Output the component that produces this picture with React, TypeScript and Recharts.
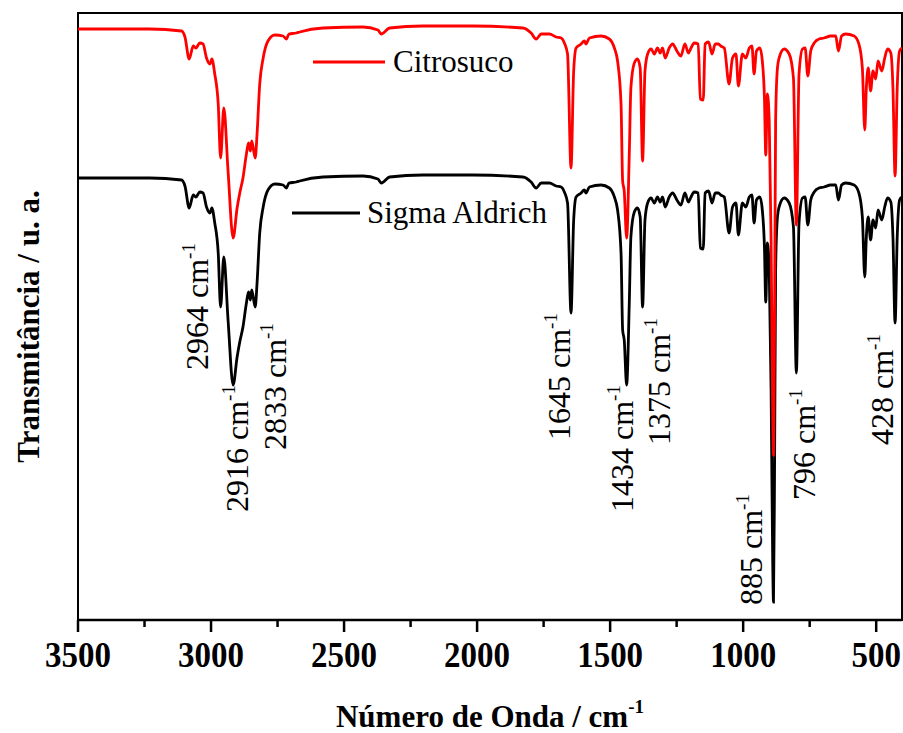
import React from 'react';
import { LineChart, Line, XAxis, YAxis, ReferenceArea, ReferenceDot, Legend } from 'recharts';

// Wavenumber (cm-1) sample points
const wavenumbers = [
  3500, 3230, 3111, 3098, 3082, 3067, 3057, 3042, 3030, 3017, 3004, 2997, 2986, 2973, 2964, 2952, 2936, 2917, 2902, 2892,
  2880, 2867, 2859, 2852, 2847, 2834, 2827, 2817, 2804, 2786, 2760, 2729, 2717, 2707, 2679, 2667, 2579, 2429, 2373, 2360,
  2329, 2204, 2016, 1828, 1797, 1778, 1759, 1728, 1703, 1684, 1672, 1660, 1647, 1637, 1628, 1609, 1597, 1591, 1578, 1534,
  1503, 1484, 1472, 1459, 1453, 1447, 1438, 1428, 1422, 1409, 1397, 1387, 1378, 1369, 1359, 1346, 1334, 1322, 1312, 1303,
  1293, 1278, 1265, 1249, 1234, 1219, 1206, 1196, 1184, 1169, 1161, 1150, 1143, 1130, 1117, 1105, 1093, 1084, 1071, 1053,
  1040, 1027, 1018, 1003, 990, 977, 967, 959, 950, 937, 928, 920, 915, 909, 902, 895, 889, 886, 882, 878,
  872, 865, 846, 827, 811, 800, 790, 777, 767, 757, 746, 733, 715, 696, 671, 652, 642, 630, 615, 583,
  565, 552, 543, 537, 530, 521, 512, 502, 493, 479, 468, 457, 445, 437, 429, 421, 412, 403,
];

// Transmittance (arbitrary units, offset spectra)
const sigmaAldrich = [
  442, 442, 440, 434, 412, 425, 423, 428, 427, 413, 407, 412, 397, 367, 313, 363, 300, 235, 263, 278,
  293, 317, 328, 320, 330, 313, 337, 387, 413, 430, 436, 435, 432, 437, 438, 439, 443, 444, 441, 437,
  443, 445, 445, 443, 438, 432, 437, 437, 434, 433, 428, 417, 307, 400, 423, 427, 430, 427, 433, 435,
  432, 423, 410, 367, 290, 280, 235, 317, 383, 408, 412, 403, 313, 400, 417, 422, 417, 423, 418, 423,
  413, 423, 427, 420, 415, 427, 418, 423, 428, 427, 372, 371, 427, 429, 417, 427, 427, 425, 423, 387,
  413, 417, 385, 417, 413, 423, 425, 397, 420, 423, 410, 373, 318, 377, 350, 230, 60, 18, 150, 350,
  400, 413, 422, 417, 393, 247, 397, 422, 423, 395, 420, 428, 432, 433, 435, 435, 420, 435, 437, 435,
  427, 403, 343, 383, 403, 380, 400, 392, 410, 400, 413, 422, 418, 383, 297, 383, 420, 423,
];

const citrosuco = [
  591, 591, 589, 583, 561, 574, 572, 577, 576, 562, 556, 561, 546, 516, 462, 512, 449, 382, 412, 427,
  442, 466, 477, 469, 479, 462, 486, 536, 562, 579, 585, 584, 581, 586, 587, 588, 592, 593, 590, 586,
  592, 594, 594, 592, 587, 581, 586, 586, 583, 582, 577, 566, 452, 549, 572, 576, 579, 576, 582, 584,
  581, 572, 559, 516, 439, 429, 382, 466, 532, 557, 561, 552, 459, 549, 566, 571, 566, 572, 567, 572,
  562, 572, 576, 569, 564, 576, 567, 572, 577, 576, 521, 520, 576, 578, 566, 576, 576, 574, 572, 536,
  562, 566, 534, 566, 562, 572, 574, 546, 569, 572, 559, 522, 465, 526, 499, 379, 209, 165, 299, 499,
  549, 562, 571, 566, 542, 395, 546, 571, 572, 544, 569, 577, 581, 582, 584, 584, 569, 584, 586, 584,
  576, 552, 490, 532, 552, 529, 549, 541, 559, 549, 562, 571, 567, 532, 444, 532, 569, 572,
];

const xTicks = [3500, 3250, 3000, 2750, 2500, 2250, 2000, 1750, 1500, 1250, 1000, 750, 500];

const peakLabels = ['2964', '2916', '2833', '1645', '1434', '1375', '885', '796', '428'];
const peakLabelWn = [3053, 2903, 2760, 1691, 1454, 1315, 970, 771, 478];
const peakLabelLevel = [250, 108, 170, 180, 108, 175, 15, 120, 175];

const data = wavenumbers.map((w, i) => ({ wn: w, sigma: sigmaAldrich[i], citro: citrosuco[i] }));

const FONT = '"Liberation Serif", "Times New Roman", serif';

const AxisTick = (props: any) => {
  const { x, y, payload } = props;
  const major = payload.value % 500 === 0;
  return (
    <g>
      <line x1={x} x2={x} y1={y} y2={y + (major ? 12 : 7)} stroke="#000" strokeWidth={2.5} />
      {major && (
        <text
          x={x}
          y={y + 47}
          textAnchor="middle"
          fontFamily={FONT}
          fontWeight="bold"
          fontSize={33}
          fill="#000"
          transform={`translate(0 ${-(y + 47) * 0.1}) scale(1 1.1)`}
        >
          {payload.value}
        </text>
      )}
    </g>
  );
};

const legendPos: Record<string, { x1: number; x2: number; y: number; tx: number; ty: number }> = {
  Citrosuco: { x1: 313, x2: 385, y: 62, tx: 393, ty: 72 },
  'Sigma Aldrich': { x1: 292, x2: 360, y: 213, tx: 367, ty: 223 },
};

const LegendContent = (props: any) => {
  const payload = props.payload || [];
  return (
    <svg width={903} height={733} style={{ position: 'absolute', left: 0, top: 0, pointerEvents: 'none' }}>
      {payload.map((p: any) => {
        const pos = legendPos[p.value];
        if (!pos) return null;
        return (
          <g key={p.value}>
            <line x1={pos.x1} x2={pos.x2} y1={pos.y} y2={pos.y} stroke={p.color} strokeWidth={3} />
            <text x={pos.tx} y={pos.ty} fontFamily={FONT} fontSize={31} fill="#000">
              {p.value}
            </text>
          </g>
        );
      })}
    </svg>
  );
};

export default function App() {
  return (
    <div style={{ position: 'absolute', left: 0, top: 0, width: 903, height: 733, background: '#fff' }}>
      <LineChart width={903} height={733} data={data} margin={{ top: 13, right: 1, left: 0, bottom: 0 }}>
        <XAxis
          dataKey="wn"
          type="number"
          domain={[403, 3500]}
          reversed
          allowDataOverflow
          ticks={xTicks}
          interval={0}
          tickSize={0}
          tickMargin={0}
          tickLine={false}
          tick={<AxisTick />}
          height={113}
          axisLine={{ stroke: '#000', strokeWidth: 2.5 }}
          label={{
            content: (p: any) => {
              const vb = p.viewBox;
              return (
                <text x={vb.x + vb.width / 2} y={vb.y + 107} textAnchor="middle" fontFamily={FONT} fontWeight="bold" fontSize={31} fill="#000">
                  Número de Onda / cm
                  <tspan dy={-14} fontSize={19}>-1</tspan>
                </text>
              );
            },
          }}
        />
        <YAxis
          type="number"
          domain={[0, 607]}
          width={78}
          tick={false}
          tickLine={false}
          axisLine={false}
          label={{
            content: (p: any) => {
              const vb = p.viewBox;
              const cx = vb.x + 39;
              const cy = vb.y + vb.height / 2 + 10;
              return (
                <text
                  x={cx}
                  y={cy}
                  transform={`rotate(-90 ${cx} ${cy})`}
                  textAnchor="middle"
                  fontFamily={FONT}
                  fontWeight="bold"
                  fontSize={31}
                  fill="#000"
                >
                  Transmitância / u. a.
                </text>
              );
            },
          }}
        />
        <ReferenceArea x1={3500} x2={403} y1={0} y2={607} fill="none" stroke="#000" strokeWidth={2} />
        <Line type="monotone" dataKey="sigma" name="Sigma Aldrich" stroke="#000000" strokeWidth={2.8} dot={false} isAnimationActive={false} />
        <Line type="monotone" dataKey="citro" name="Citrosuco" stroke="#ff0000" strokeWidth={2.8} dot={false} isAnimationActive={false} />
        {peakLabels.map((lab, i) => (
          <ReferenceDot
            key={lab}
            x={peakLabelWn[i]}
            y={peakLabelLevel[i]}
            r={1}
            ifOverflow="visible"
            shape={(p: any) => {
              const bx = p.cx + 11;
              const by = p.cy;
              return (
                <text x={bx} y={by} transform={`rotate(-90 ${bx} ${by})`} fontFamily={FONT} fontSize={32} fill="#000">
                  {lab} cm
                  <tspan dy={-13} fontSize={19}>-1</tspan>
                </text>
              );
            }}
          />
        ))}
        <Legend
          layout="horizontal"
          verticalAlign="middle"
          align="center"
          content={<LegendContent />}
          wrapperStyle={{ position: 'absolute', left: 0, top: 0, width: 903, height: 733, pointerEvents: 'none' }}
        />
      </LineChart>
    </div>
  );
}
